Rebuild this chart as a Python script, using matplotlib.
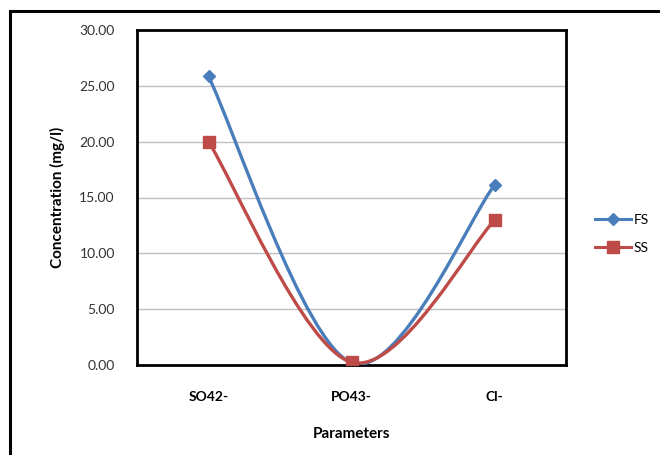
import matplotlib.pyplot as plt
from matplotlib.path import Path
from matplotlib.patches import PathPatch
from matplotlib.lines import Line2D
import numpy as np

# donnees
categories = ['SO42-', 'PO43-', 'Cl-']
fs_values = [25.85, 0.2, 16.1]
ss_values = [20.0, 0.25, 12.95]
yticks = [0, 5, 10, 15, 20, 25, 30]

blue = '#4A7EBB'
red = '#BE4B48'

plt.rcParams['font.family'] = ['Lato', 'DejaVu Sans']


def smooth_path(x, y):
    # courbe lissee facon Excel (Bezier, type Catmull-Rom)
    pts = np.column_stack([x, y]).astype(float)
    n = len(pts)
    verts = [pts[0]]
    codes = [Path.MOVETO]
    for i in range(n - 1):
        p0 = pts[i - 1] if i > 0 else pts[i]
        p1 = pts[i]
        p2 = pts[i + 1]
        p3 = pts[i + 2] if i + 2 < n else pts[i + 1]
        c1 = p1 + (p2 - p0) / 6
        c2 = p2 - (p3 - p1) / 6
        verts += [c1, c2, p2]
        codes += [Path.CURVE4] * 3
    return Path(verts, codes)


fig = plt.figure(figsize=(6.6, 4.55), dpi=100)
ax = fig.add_axes([137 / 660, 1 - 365 / 455, 429 / 660, 335 / 455])

x = np.arange(len(categories))
for vals, col, mk, ms in [(fs_values, blue, 'D', 6), (ss_values, red, 's', 9)]:
    ax.add_patch(PathPatch(smooth_path(x, vals), fill=False, edgecolor=col,
                           lw=2.4, zorder=3))
    ax.plot(x, vals, linestyle='none', marker=mk, markersize=ms, color=col, zorder=4)

ax.set_xlim(-0.5, 2.5)
ax.set_ylim(0, 30)
ax.set_yticks(yticks)
ax.set_yticklabels(['%.2f' % v for v in yticks], fontsize=10, color='#333333')
ax.set_xticks(x)
ax.set_xticklabels(categories, fontsize=10, fontweight='bold')
ax.tick_params(length=0, pad=16)
ax.tick_params(axis='x', pad=19)
ax.yaxis.grid(True, color='#BFBFBF', lw=1)
ax.set_axisbelow(True)
for s in ax.spines.values():
    s.set_linewidth(2)
    s.set_color('black')

ax.set_ylabel('Concentration (mg/l)', fontsize=11, fontweight='bold', labelpad=10)
ax.set_xlabel('Parameters', fontsize=11, fontweight='bold', labelpad=17)

handles = [Line2D([], [], color=blue, lw=2.2, marker='D', markersize=6),
           Line2D([], [], color=red, lw=2.2, marker='s', markersize=9)]
fig.legend(handles, ['FS', 'SS'], loc='center left',
           bbox_to_anchor=(582 / 660, 1 - 234 / 455), frameon=False,
           fontsize=10, handlelength=2.6, handletextpad=0.2, labelspacing=1.1)

# cadre exterieur du graphique
fig.add_artist(Line2D([10 / 660, 10 / 660], [0, 1 - 11 / 455], color='black', lw=2.2))
fig.add_artist(Line2D([10 / 660, 1], [1 - 11 / 455, 1 - 11 / 455], color='black', lw=2.2))

fig.savefig('out.png', dpi=100)
